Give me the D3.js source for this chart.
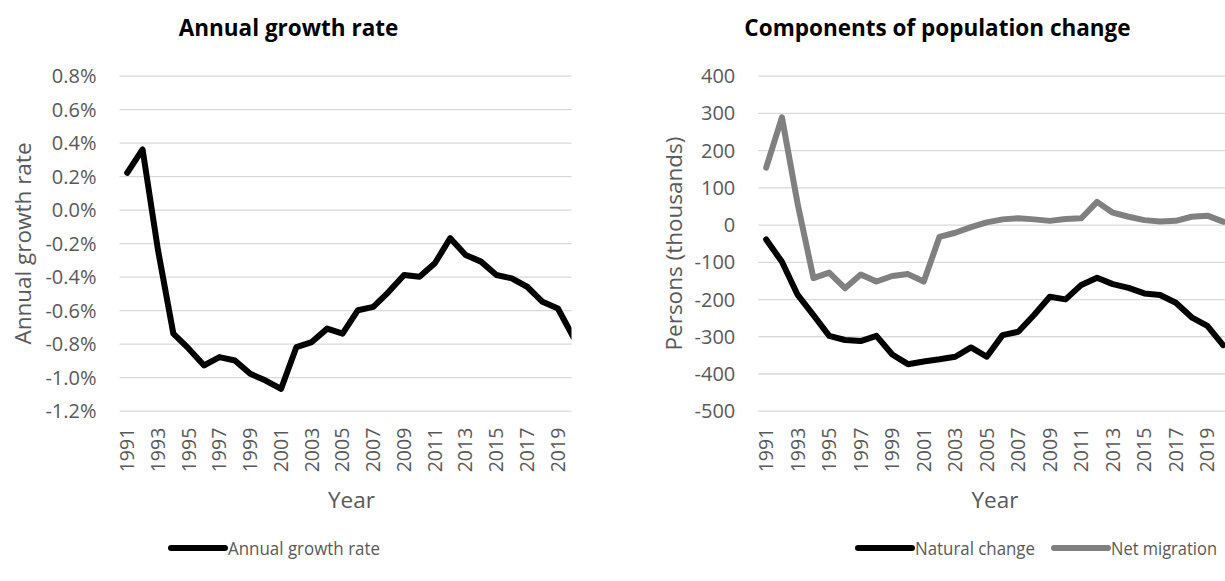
<!DOCTYPE html>
<html>
<head>
<meta charset="utf-8">
<script src="https://cdn.jsdelivr.net/npm/d3@7"></script>
<style>
  html, body { margin: 0; padding: 0; background: #fff; }
  svg { display: block; font-family: "Open Sans", "Noto Sans", sans-serif; }
</style>
</head>
<body>
<svg id="chart" width="1225" height="581"></svg>
<script>
// Years on the category axis
const years = [1991, 1992, 1993, 1994, 1995, 1996, 1997, 1998, 1999, 2000,
               2001, 2002, 2003, 2004, 2005, 2006, 2007, 2008, 2009, 2010,
               2011, 2012, 2013, 2014, 2015, 2016, 2017, 2018, 2019, 2020];
// Year labels shown under each axis (every second year)
const yearTicks = [1991, 1993, 1995, 1997, 1999, 2001, 2003, 2005, 2007,
                   2009, 2011, 2013, 2015, 2017, 2019];

// Annual growth rate, percent
const growthRate = [0.22, 0.36, -0.24, -0.74, -0.83, -0.93, -0.88, -0.90, -0.98, -1.02,
                    -1.07, -0.82, -0.79, -0.71, -0.74, -0.60, -0.58, -0.49, -0.39, -0.40,
                    -0.32, -0.17, -0.27, -0.31, -0.39, -0.41, -0.46, -0.55, -0.59, -0.76];
const growthTicks = [-1.2, -1.0, -0.8, -0.6, -0.4, -0.2, 0.0, 0.2, 0.4, 0.6, 0.8];

// Components of population change, thousands of persons
const naturalChange = [-40, -100, -189, -243, -299, -310, -313, -299, -349, -375,
                       -368, -362, -355, -330, -355, -297, -288, -243, -194, -201,
                       -162, -143, -160, -170, -185, -189, -210, -249, -272, -324];
const netMigration = [153, 288, 55, -144, -129, -171, -134, -153, -138, -133,
                      -153, -33, -22, -7, 6, 14, 17, 14, 10, 15,
                      17, 61, 32, 21, 12, 8, 10, 21, 24, 8];
const personTicks = [-500, -400, -300, -200, -100, 0, 100, 200, 300, 400];

const svg = d3.select("#chart");
const TEXT = "#595959", GRID = "#d9d9d9";
const plotTop = 75.7, plotBottom = 410.7;

function drawPanel(opt) {
  const g = svg.append("g");
  const x = d3.scaleBand().domain(years).range([opt.left, opt.right]).paddingInner(0).paddingOuter(0);
  const cx = d => x(d) + x.bandwidth() / 2;
  const y = d3.scaleLinear().domain(opt.domain).range([plotBottom, plotTop]);

  const clipId = "clip-" + opt.id;
  svg.append("clipPath").attr("id", clipId)
    .append("rect").attr("x", opt.left).attr("y", 0)
    .attr("width", opt.clipRight - opt.left).attr("height", 581);

  // value axis with horizontal gridlines
  const yAxis = g.append("g").attr("transform", `translate(${opt.left},0)`)
    .call(d3.axisLeft(y).tickValues(opt.ticks).tickFormat(opt.fmt)
      .tickSize(-(opt.clipRight - opt.left)).tickPadding(opt.pad));
  yAxis.select(".domain").remove();
  yAxis.selectAll("line").attr("stroke", GRID).attr("stroke-width", 1.3);
  yAxis.selectAll("text").attr("fill", TEXT).style("font-size", "20px")
    .style("font-family", "'Open Sans', sans-serif").attr("dy", "0.35em");

  // category axis, labels rotated
  const xAxis = g.append("g").attr("transform", `translate(0,${plotBottom})`)
    .call(d3.axisBottom(x).tickValues(yearTicks).tickSize(0));
  xAxis.select(".domain").remove();
  xAxis.selectAll("text")
    .attr("transform", "rotate(-90)")
    .attr("x", -17).attr("y", 0).attr("dy", "0.35em")
    .attr("text-anchor", "end")
    .attr("fill", TEXT).style("font-size", "19.5px")
    .style("font-family", "'Open Sans', sans-serif");

  // series lines
  const line = d3.line().x((d, i) => cx(years[i])).y(d => y(d));
  opt.series.forEach(s => {
    g.append("path").datum(s.values)
      .attr("clip-path", `url(#${clipId})`)
      .attr("d", line)
      .attr("fill", "none").attr("stroke", s.color).attr("stroke-width", 6)
      .attr("stroke-linejoin", "round").attr("stroke-linecap", "round");
  });

  // titles
  g.append("text").attr("x", opt.titleX).attr("y", 36).attr("text-anchor", "middle")
    .style("font-size", "22.5px").style("font-weight", "bold").attr("fill", "#000")
    .text(opt.title);
  g.append("text").attr("x", opt.xTitleX).attr("y", 508).attr("text-anchor", "middle")
    .style("font-size", "22.5px").attr("fill", TEXT).text("Year");
  g.append("text").attr("transform", `translate(${opt.yTitleX},${243.5}) rotate(-90)`)
    .attr("text-anchor", "middle").style("font-size", "22.5px").attr("fill", TEXT)
    .text(opt.yTitle);

  // legend
  opt.legend.forEach(l => {
    g.append("line").attr("x1", l.x).attr("x2", l.x + 54).attr("y1", 548).attr("y2", 548)
      .attr("stroke", l.color).attr("stroke-width", 6).attr("stroke-linecap", "round");
    g.append("text").attr("x", l.x + 57).attr("y", 554.5)
      .style("font-size", "17.5px").attr("fill", TEXT)
      .attr("textLength", l.w).attr("lengthAdjust", "spacingAndGlyphs")
      .text(l.label);
  });
}

drawPanel({
  id: "growth", left: 119.5, right: 581, clipRight: 571.5,
  domain: [-1.2, 0.8], ticks: growthTicks, fmt: v => v.toFixed(1) + "%", pad: 23,
  series: [{ values: growthRate, color: "#000" }],
  title: "Annual growth rate", titleX: 288.5, xTitleX: 351.5,
  yTitle: "Annual growth rate", yTitleX: 31,
  legend: [{ x: 171, color: "#000", label: "Annual growth rate", w: 152 }]
});

drawPanel({
  id: "components", left: 758.3, right: 1231, clipRight: 1231,
  domain: [-500, 400], ticks: personTicks, fmt: v => String(v), pad: 23,
  series: [{ values: netMigration, color: "#808080" }, { values: naturalChange, color: "#000" }],
  title: "Components of population change", titleX: 937.5, xTitleX: 995,
  yTitle: "Persons (thousands)", yTitleX: 681.5,
  legend: [
    { x: 858, color: "#000", label: "Natural change", w: 120 },
    { x: 1054, color: "#808080", label: "Net migration", w: 106 }
  ]
});
</script>
</body>
</html>
